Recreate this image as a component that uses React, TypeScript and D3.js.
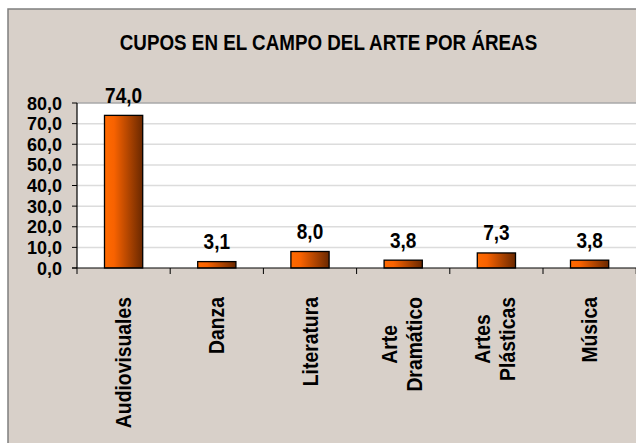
import React, { useEffect, useRef } from "react";
import * as d3 from "d3";

const categories: string[][] = [
  ["Audiovisuales"],
  ["Danza"],
  ["Literatura"],
  ["Arte", "Dramático"],
  ["Artes", "Plásticas"],
  ["Música"],
];
const values: number[] = [74.0, 3.1, 8.0, 3.8, 7.3, 3.8];
const yTicks: number[] = [0, 10, 20, 30, 40, 50, 60, 70, 80];
const title = "CUPOS EN EL CAMPO DEL ARTE POR ÁREAS";

const W = 636;
const H = 443;
const FONT = "'Liberation Sans', Arial, sans-serif";

export default function App() {
  const ref = useRef<SVGSVGElement>(null);

  useEffect(() => {
    const svg = d3.select(ref.current);
    svg.selectAll("*").remove();

    const left = 77, right = 636.2, top = 103, bottom = 268;
    const fmt = (v: number) => v.toFixed(1).replace(".", ",");

    const defs = svg.append("defs");
    const grad = defs.append("linearGradient").attr("id", "barGrad")
      .attr("x1", "0%").attr("x2", "100%").attr("y1", "0%").attr("y2", "0%");
    grad.append("stop").attr("offset", "0%").attr("stop-color", "#ff6a00");
    grad.append("stop").attr("offset", "25%").attr("stop-color", "#f86200");
    grad.append("stop").attr("offset", "100%").attr("stop-color", "#6a2800");

    // background
    svg.append("rect").attr("x", 0).attr("y", 0).attr("width", W).attr("height", H).attr("fill", "#ffffff");
    svg.append("rect").attr("x", 8).attr("y", 9).attr("width", W).attr("height", H)
      .attr("fill", "#d8d0c9").attr("stroke", "#7f7f7f").attr("stroke-width", 1.5);

    // title
    svg.append("text")
      .attr("transform", `translate(328.5,49.5) scale(0.855,1)`)
      .attr("text-anchor", "middle")
      .attr("font-family", FONT).attr("font-weight", "bold").attr("font-size", 22)
      .attr("fill", "#000").text(title);

    const x = d3.scaleBand<number>().domain(d3.range(categories.length)).range([left, right]).padding(0);
    const y = d3.scaleLinear().domain([0, 80]).range([bottom, top]);

    // plot area
    svg.append("rect").attr("x", left).attr("y", top).attr("width", W - left + 10).attr("height", bottom - top)
      .attr("fill", "#ffffff");

    // gridlines
    svg.append("g").selectAll("line").data(yTicks.filter((t) => t > 0)).join("line")
      .attr("x1", left).attr("x2", W + 5)
      .attr("y1", (d) => y(d)).attr("y2", (d) => y(d))
      .attr("stroke", (d) => (d === 80 ? "#a8a8a8" : "#dcdcdc")).attr("stroke-width", 1.5);

    // bars
    const bw = x.bandwidth() * 0.41;
    svg.append("g").selectAll("rect").data(values).join("rect")
      .attr("x", (_d, i) => (x(i) as number) + x.bandwidth() / 2 - bw / 2)
      .attr("y", (d) => y(d))
      .attr("width", bw)
      .attr("height", (d) => bottom - y(d))
      .attr("fill", "url(#barGrad)")
      .attr("stroke", "#000").attr("stroke-width", 1.3);

    // value labels
    svg.append("g").selectAll("text").data(values).join("text")
      .attr("transform", (d, i) => `translate(${(x(i) as number) + x.bandwidth() / 2},${y(d) - 12.5}) scale(0.865,1)`)
      .attr("text-anchor", "middle")
      .attr("font-family", FONT).attr("font-weight", "bold").attr("font-size", 22)
      .attr("fill", "#000").text((d) => fmt(d));

    // axes
    svg.append("line").attr("x1", left).attr("x2", left).attr("y1", top).attr("y2", bottom)
      .attr("stroke", "#000").attr("stroke-width", 1.2);
    svg.append("line").attr("x1", left - 5).attr("x2", W + 5).attr("y1", bottom).attr("y2", bottom)
      .attr("stroke", "#000").attr("stroke-width", 1.2);

    // y ticks
    const yg = svg.append("g");
    yg.selectAll("line").data(yTicks).join("line")
      .attr("x1", left - 5).attr("x2", left).attr("y1", (d) => y(d)).attr("y2", (d) => y(d))
      .attr("stroke", "#000").attr("stroke-width", 1);
    yg.selectAll("text").data(yTicks).join("text")
      .attr("transform", (d) => `translate(62,${y(d) + 6.5})`)
      .attr("text-anchor", "end")
      .attr("font-family", FONT).attr("font-weight", "bold").attr("font-size", 18)
      .attr("fill", "#000").text((d) => fmt(d));

    // x ticks at band boundaries
    const bounds = d3.range(categories.length + 1).map((i) => left + i * x.step());
    svg.append("g").selectAll("line").data(bounds).join("line")
      .attr("x1", (d) => d).attr("x2", (d) => d).attr("y1", bottom).attr("y2", bottom + 6)
      .attr("stroke", "#000").attr("stroke-width", 1);

    // x labels rotated
    const topY = 297;
    const lineGap = 25;
    categories.forEach((lines, i) => {
      const cx = (x(i) as number) + x.bandwidth() / 2;
      const g = svg.append("g");
      const texts = lines.map((ln) =>
        g.append("text")
          .attr("font-family", FONT).attr("font-weight", "bold").attr("font-size", 22.5)
          .attr("fill", "#000").attr("text-anchor", "middle").text(ln)
      );
      const sx = 0.86;
      const lens = texts.map((t) => (t.node() as SVGTextElement).getComputedTextLength() * sx);
      const maxLen = d3.max(lens) as number;
      const centerY = topY + maxLen / 2;
      const n = lines.length;
      texts.forEach((t, j) => {
        const bx = n === 1 ? cx + 7.5 : cx - 6 + j * lineGap;
        t.attr("transform", `translate(${bx},${centerY}) rotate(-90) scale(${sx},1)`);
      });
    });
  }, []);

  return (
    <svg ref={ref} width={W} height={H} style={{ display: "block", position: "absolute", left: 0, top: 0 }} />
  );
}
